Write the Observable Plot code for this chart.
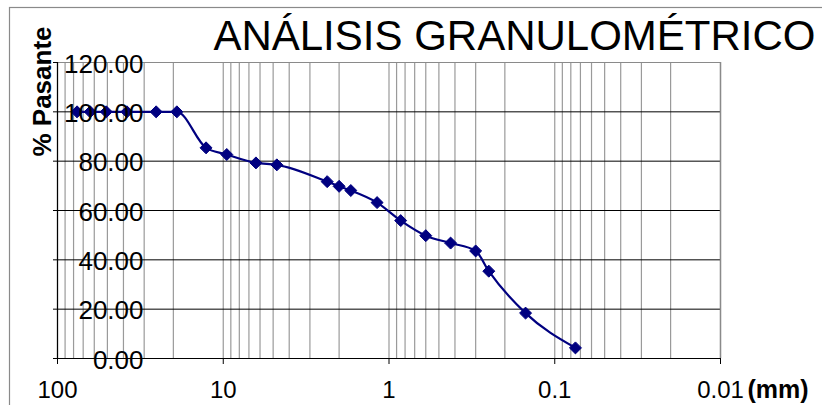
<!DOCTYPE html>
<html><head><meta charset="utf-8">
<script src="https://cdn.jsdelivr.net/npm/d3@7"></script>
<script src="https://cdn.jsdelivr.net/npm/@observablehq/plot@0.6"></script>
<style>body{margin:0;background:#fff;} svg{display:block;}</style>
</head><body><div id="chart"></div>
<script>
const sizes = [76.2, 63.5, 50.8, 38.1, 25.4, 19.05, 12.7, 9.525, 6.35, 4.75, 2.36, 2.0, 1.7, 1.18, 0.85, 0.6, 0.425, 0.3, 0.25, 0.15, 0.075];
const passing = [100, 100, 100, 100, 100, 100, 85.4, 82.7, 79.3, 78.5, 71.7, 69.8, 68.1, 63.2, 55.9, 49.8, 46.8, 43.6, 35.4, 18.4, 4.3];
const yTicks = [0, 20, 40, 60, 80, 100, 120];
const yTickLabels = ["0.00", "20.00", "40.00", "60.00", "80.00", "100.00", "120.00"];
const xTicks = [100, 10, 1, 0.1, 0.01];
const xTickLabels = ["100", "10", "1", "0.1", "0.01"];
const title = "ANÁLISIS GRANULOMÉTRICO";
const yLabel = "% Pasante";
const xUnit = "(mm)";

const data = sizes.map((s, i) => ({size: s, pass: passing[i]}));
const xGrid = d3.scaleLog().domain([0.01, 100]).ticks();
const font = "'Liberation Sans', Arial, sans-serif";
const navy = "#000080";

const chart = Plot.plot({
  width: 822,
  height: 405,
  marginLeft: 57,
  marginRight: 102,
  marginTop: 62,
  marginBottom: 47,
  style: {fontFamily: font, background: "#fff"},
  x: {type: "log", domain: [100, 0.01], axis: null},
  y: {domain: [0, 120], axis: null},
  marks: [
    Plot.ruleX(xGrid, {stroke: "#9a9a9a", strokeWidth: 1.2}),
    Plot.ruleY(yTicks.slice(0, 6), {stroke: "#000", strokeWidth: 1}),
    Plot.ruleY([120], {stroke: "#8a8a8a", strokeWidth: 1.2}),
    Plot.ruleX([0.01], {stroke: "#8a8a8a", strokeWidth: 1.4}),
    Plot.ruleX([100], {stroke: "#000", strokeWidth: 1.2}),
    Plot.ruleY([0], {stroke: "#000", strokeWidth: 1.2}),
    Plot.axisX({ticks: xTicks, tickSize: 6, tickFormat: () => "", stroke: "#000", label: null}),
    Plot.axisY({ticks: yTicks, tickSize: 4, tickFormat: () => "", stroke: "#000", label: null}),
    Plot.line(data, {x: "size", y: "pass", stroke: navy, strokeWidth: 2.2, curve: "monotone-x"}),
    Plot.dot(data, {x: "size", y: "pass", symbol: "diamond2", r: 5.4, fill: navy, stroke: navy, strokeWidth: 1}),
    Plot.text(yTicks, {y: d => d, text: (d, i) => yTickLabels[i], frameAnchor: "left", dx: 86, dy: 2, textAnchor: "end", fontSize: 26, fill: "#000"}),
    Plot.text(xTicks, {x: d => d, text: (d, i) => xTickLabels[i], frameAnchor: "bottom", dy: 39, lineAnchor: "bottom", fontSize: 24, fill: "#000"}),
    Plot.text([xUnit], {frameAnchor: "bottom-right", dx: 27, dy: 39, lineAnchor: "bottom", textAnchor: "start", fontSize: 25, fontWeight: "bold", fill: "#000"}),
    Plot.text([title], {frameAnchor: "top-right", dx: 95, dy: -13, lineAnchor: "bottom", textAnchor: "end", fontSize: 42, fill: "#000"}),
    Plot.text([yLabel], {frameAnchor: "top-left", dx: -7, dy: 29, rotate: -90, lineAnchor: "bottom", textAnchor: "middle", fontSize: 26, fontWeight: "bold", fill: "#000"})
  ]
});

d3.select(chart).append("rect")
  .attr("x", 9.5).attr("y", 7.5).attr("width", 830).attr("height", 420)
  .attr("fill", "none").attr("stroke", "#8a8a8a").attr("stroke-width", 1.2);

document.getElementById("chart").appendChild(chart);
</script>
</body></html>
